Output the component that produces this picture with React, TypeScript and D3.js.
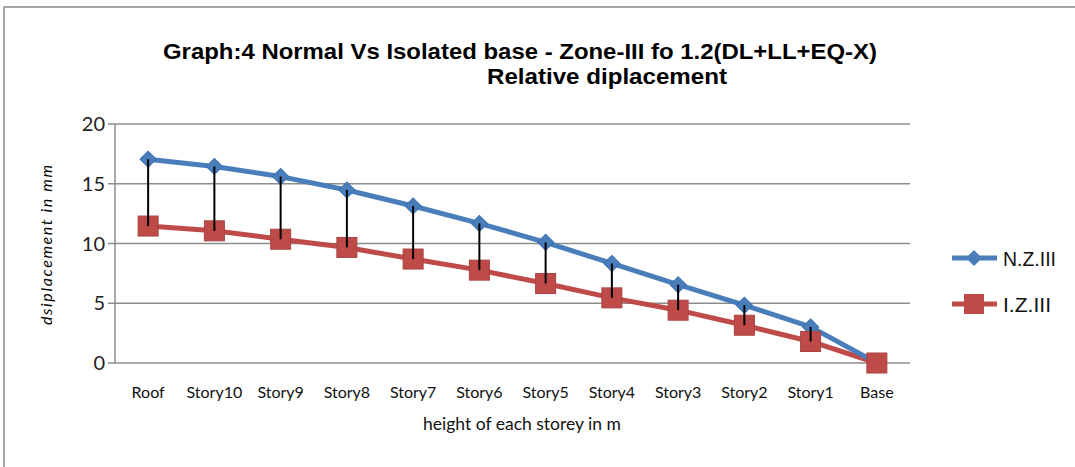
import React from "react";
import * as d3 from "d3";

const categories = ["Roof", "Story10", "Story9", "Story8", "Story7", "Story6", "Story5", "Story4", "Story3", "Story2", "Story1", "Base"];
const normalZone3 = [17.05, 16.45, 15.6, 14.48, 13.14, 11.68, 10.1, 8.33, 6.55, 4.84, 3.02, 0];
const isolatedZone3 = [11.46, 11.06, 10.36, 9.67, 8.7, 7.77, 6.65, 5.45, 4.42, 3.16, 1.8, 0];
const yTicks = [0, 5, 10, 15, 20];
const seriesNames = ["N.Z.III", "I.Z.III"];

const W = 1075;
const H = 467;
const plot = { left: 115, right: 910, top: 124, bottom: 363 };
const BLUE = "#4a7ebb";
const RED = "#be4b48";

export default function App() {
  const x = d3.scaleBand<string>().domain(categories).range([plot.left, plot.right]);
  const y = d3.scaleLinear().domain([0, 20]).range([plot.bottom, plot.top]);
  const cx = (c: string) => (x(c) ?? 0) + x.bandwidth() / 2;
  const line = d3
    .line<number>()
    .x((_, i) => cx(categories[i]))
    .y((d) => y(d));
  const diamond = d3.symbol().type(d3.symbolSquare).size(130)();
  const square = 10;

  const tickFont = "Lato, 'Open Sans', sans-serif";
  const narrowFont = "'Liberation Sans Narrow', 'Arial Narrow', 'Liberation Sans', Arial, sans-serif";

  return (
    <svg width={W} height={H} style={{ position: "absolute", left: 0, top: 0, background: "#fff" }}>
      {/* chart border */}
      <path d={`M4,${H} L4,7 L${W},7`} fill="none" stroke="#a6a6a6" strokeWidth={2} />

      {/* title */}
      <text x={520} y={59} textAnchor="middle" fontFamily={narrowFont} fontWeight="bold" fontSize={22}
        textLength={714} lengthAdjust="spacingAndGlyphs" fill="#000">
        Graph:4 Normal Vs Isolated base - Zone-III fo 1.2(DL+LL+EQ-X)
      </text>
      <text x={607} y={84} textAnchor="middle" fontFamily={narrowFont} fontWeight="bold" fontSize={22}
        textLength={240} lengthAdjust="spacingAndGlyphs" fill="#000">
        Relative diplacement
      </text>

      {/* gridlines */}
      {yTicks.map((t) => (
        <g key={t}>
          <line x1={plot.left - 7} x2={plot.right} y1={y(t)} y2={y(t)} stroke="#8c8c8c" strokeWidth={1.5} />
          <text x={105} y={y(t) + 7} textAnchor="end" fontFamily={tickFont} fontSize={20} fill="#222">
            {t}
          </text>
        </g>
      ))}
      <line x1={plot.left} x2={plot.left} y1={plot.top} y2={plot.bottom} stroke="#8c8c8c" strokeWidth={1.5} />

      {/* y-axis title */}
      <text transform={`translate(52,245) rotate(-90)`} textAnchor="middle" fontFamily={tickFont}
        fontStyle="italic" fontSize={16} textLength={160} lengthAdjust="spacing" fill="#000">
        dsiplacement in mm
      </text>

      {/* x tick labels */}
      {categories.map((c) => (
        <text key={c} x={cx(c)} y={398} textAnchor="middle" fontFamily={tickFont} fontSize={16} fill="#111">
          {c}
        </text>
      ))}
      <text x={522} y={430} textAnchor="middle" fontFamily={tickFont} fontSize={17.5} fill="#111">
        height of each storey in m
      </text>

      {/* series lines */}
      <path d={line(isolatedZone3) ?? ""} fill="none" stroke={RED} strokeWidth={5} strokeLinejoin="round" />
      <path d={line(normalZone3) ?? ""} fill="none" stroke={BLUE} strokeWidth={5} strokeLinejoin="round" />

      {/* markers */}
      {normalZone3.map((v, i) => (
        <path key={"n" + i} d={diamond ?? ""} transform={`translate(${cx(categories[i])},${y(v)}) rotate(45)`}
          fill={BLUE} stroke="#3a6fb0" strokeWidth={1} />
      ))}
      {isolatedZone3.map((v, i) => (
        <rect key={"i" + i} x={cx(categories[i]) - square} y={y(v) - square} width={square * 2} height={square * 2}
          fill={RED} stroke="#a94442" strokeWidth={1} />
      ))}

      {/* high-low lines */}
      {categories.map((c, i) =>
        normalZone3[i] - isolatedZone3[i] > 0 ? (
          <line key={"hl" + c} x1={cx(c)} x2={cx(c)} y1={y(normalZone3[i])} y2={y(isolatedZone3[i])} stroke="#000" strokeWidth={2} />
        ) : null
      )}

      {/* legend */}
      {seriesNames.map((name, i) => {
        const ly = i === 0 ? 258 : 304;
        const color = i === 0 ? BLUE : RED;
        return (
          <g key={name}>
            <line x1={952} x2={997} y1={ly} y2={ly} stroke={color} strokeWidth={5} />
            {i === 0 ? (
              <path d={diamond ?? ""} transform={`translate(974,${ly}) rotate(45)`} fill={color} />
            ) : (
              <rect x={974 - square} y={ly - square} width={square * 2} height={square * 2} fill={color} />
            )}
            <text x={1003} y={ly + 8} fontFamily={narrowFont} fontSize={21}
              textLength={i === 0 ? 53 : 48} lengthAdjust="spacingAndGlyphs" fill="#111">
              {name}
            </text>
          </g>
        );
      })}
    </svg>
  );
}
